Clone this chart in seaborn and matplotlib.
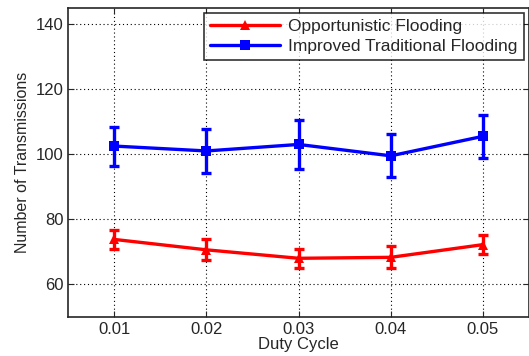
import numpy as np
import pandas as pd
import seaborn as sns
from matplotlib import pyplot as plt

duty_cycle = [0.01, 0.02, 0.03, 0.04, 0.05]
opportunistic = [73.8, 70.6, 68.0, 68.3, 72.2]
opportunistic_err = [3.0, 3.2, 2.9, 3.4, 3.0]
improved = [102.5, 101.0, 103.0, 99.5, 105.5]
improved_err = [6.0, 6.9, 7.6, 6.6, 6.6]
labels = ["Opportunistic Flooding", "Improved Traditional Flooding"]

sns.set_style("ticks")
plt.rcParams["font.family"] = ["Liberation Sans", "DejaVu Sans"]

fig, ax = plt.subplots(figsize=(5.29, 3.56), dpi=100)

df = pd.DataFrame({
    "x": duty_cycle * 2,
    "y": opportunistic + improved,
    "series": [labels[0]] * 5 + [labels[1]] * 5,
})
sns.lineplot(data=df, x="x", y="y", hue="series", style="series",
             markers={labels[0]: "^", labels[1]: "s"}, dashes=False,
             palette={labels[0]: "#ff0000", labels[1]: "#0000ff"},
             linewidth=2.4, markersize=7.5, markeredgewidth=0, ax=ax)

for vals, errs, c in ((opportunistic, opportunistic_err, "#ff0000"),
                      (improved, improved_err, "#0000ff")):
    ax.errorbar(duty_cycle, vals, yerr=errs, fmt="none", ecolor=c,
                elinewidth=2.4, capsize=3.5, capthick=2.4)

ax.set_xlim(0.005, 0.055)
ax.set_ylim(50, 145)
ax.set_xticks(duty_cycle)
ax.set_xticklabels([f"{v:.2f}" for v in duty_cycle])
ax.set_yticks([60, 80, 100, 120, 140])
ax.grid(True, linestyle=(0, (1, 2.5)), color="black", linewidth=0.8)
ax.tick_params(direction="in", labelsize=12, length=4, top=True, right=True)
for s in ax.spines.values():
    s.set_linewidth(1.2)
ax.set_xlabel("Duty Cycle", fontsize=12, labelpad=0)
ax.set_ylabel("Number of Transmissions", fontsize=11.5)

leg = ax.legend(loc="upper right", fontsize=12.5, frameon=True, fancybox=False,
                edgecolor="black", borderpad=0.35, handlelength=4.0,
                labelspacing=0.25, borderaxespad=0.3, handletextpad=0.5)
leg.set_title(None)
leg.get_frame().set_linewidth(1.2)

fig.subplots_adjust(left=0.129, right=1.0, top=0.978, bottom=0.11)
fig.savefig("out.png", dpi=100)
